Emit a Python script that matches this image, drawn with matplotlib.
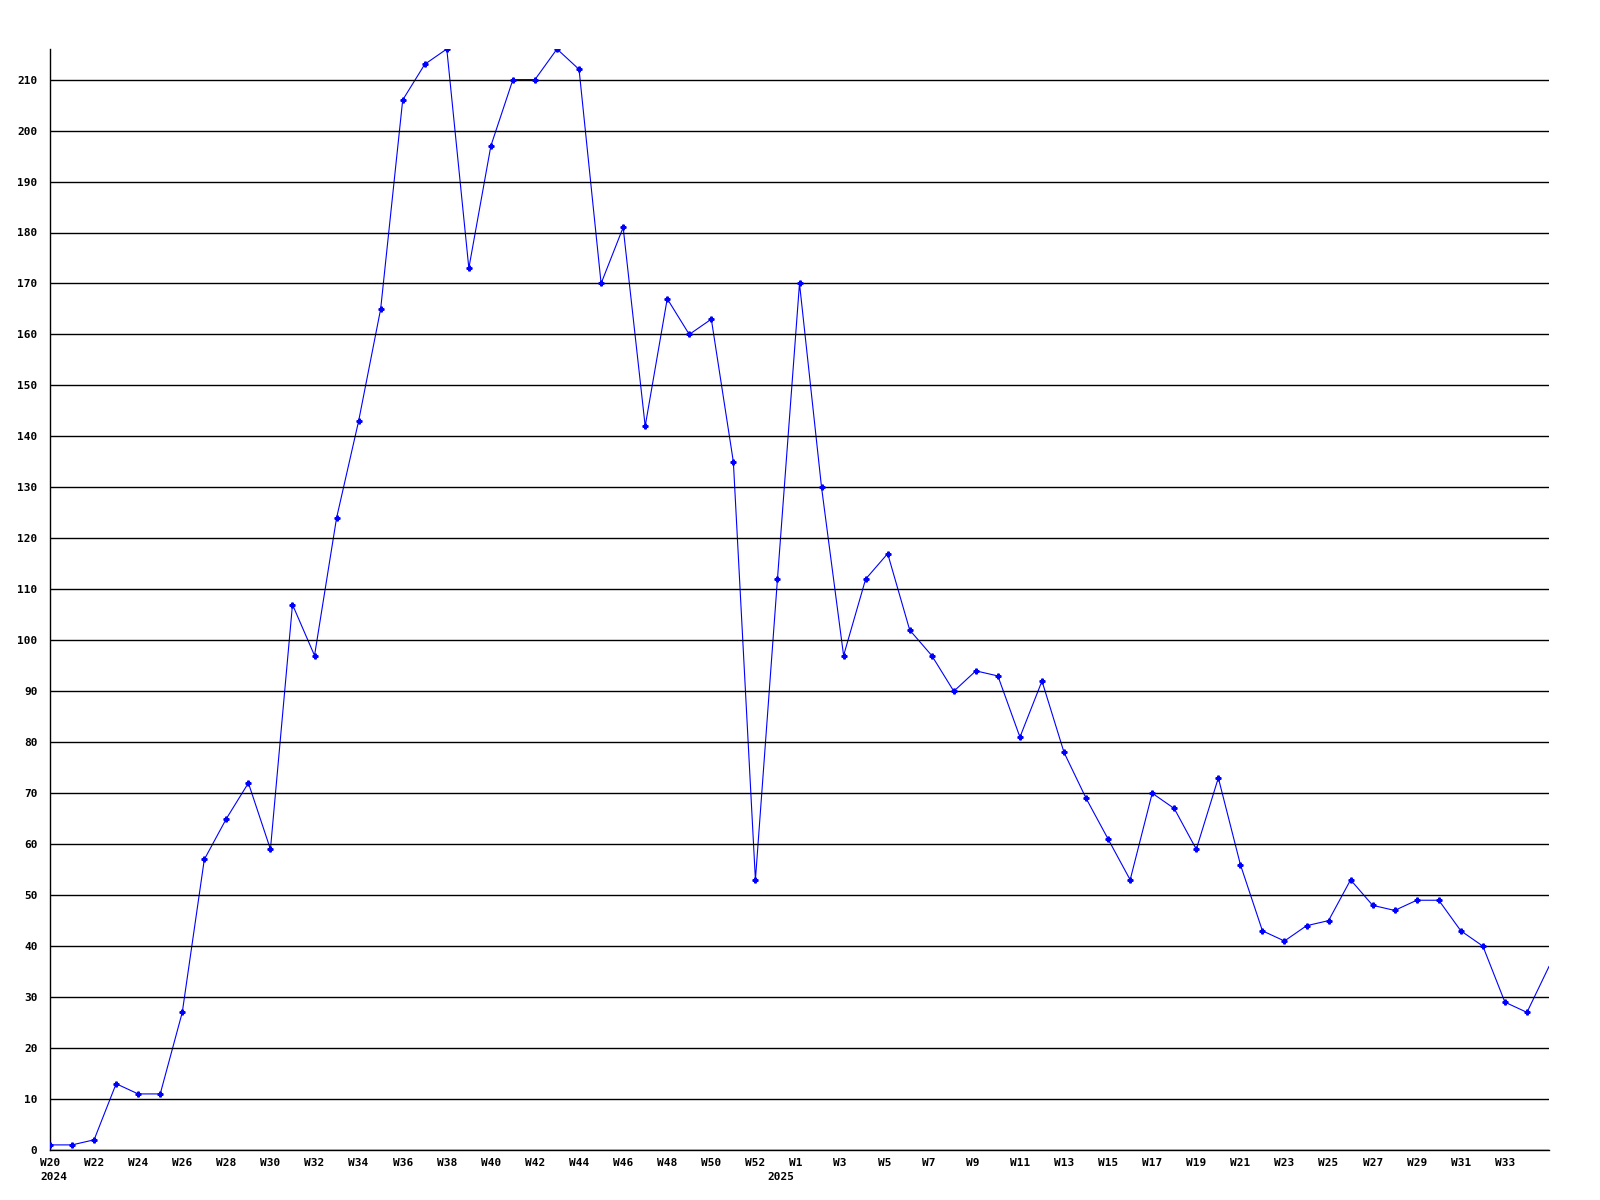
import matplotlib
matplotlib.use("Agg")
import matplotlib.pyplot as plt
import matplotlib.transforms as mtransforms

# week labels (2024 has an extra W53 before 2025 starts)
weeks = [f"W{w}" for w in range(20, 54)] + [f"W{w}" for w in range(1, 36)]
years = {0: "2024", 33: "2025"}

values = [1, 1, 2, 13, 11, 11, 27, 57, 65, 72,
          59, 107, 97, 124, 143, 165, 206, 213, 216, 173,
          197, 210, 210, 216, 212, 170, 181, 142, 167, 160,
          163, 135, 53, 112, 170, 130, 97, 112, 117, 102,
          97, 90, 94, 93, 81, 92, 78, 69, 61, 53,
          70, 67, 59, 73, 56, 43, 41, 44, 45, 53,
          48, 47, 49, 49, 43, 40, 29, 27, 36]

x = list(range(len(values)))

plt.rcParams['font.family'] = ['DejaVu Sans Mono']
plt.rcParams['font.weight'] = 'bold'

fig = plt.figure(figsize=(16, 12), dpi=100)
ax = fig.add_axes([50 / 1600, 50 / 1200, 1499 / 1600, 1101 / 1200])

# line under the grid, markers on top
ax.plot(x, values, color='#0000ff', lw=0.8, zorder=1)
ax.plot(x[:-1], values[:-1], ls='none', marker='P', ms=3.5, color='#0000ff',
        mec='#0000ff', zorder=3)

ax.set_xlim(0, len(values) - 1)
ax.set_ylim(0, max(values))

ax.set_yticks(range(0, 211, 10))
ax.yaxis.grid(True, color='black', lw=1.0)
ax.set_axisbelow(False)

# labels every second week, left-aligned a little before the tick
tick_idx = x[:-1:2]
ax.set_xticks(tick_idx)
ax.set_xticklabels([weeks[i].ljust(3) for i in tick_idx], ha='center')

shift = mtransforms.ScaledTranslation(-10 / 100, -22 / 100, fig.dpi_scale_trans)
trans = mtransforms.blended_transform_factory(ax.transData, ax.transAxes) + shift
for i, yr in years.items():
    ax.text(i, 0, yr, transform=trans, ha='left', va='top',
            fontsize=8, fontweight='bold')

ax.tick_params(axis='both', length=0, labelsize=8)
ax.tick_params(axis='y', pad=9)
ax.tick_params(axis='x', pad=6)

for s in ['top', 'right']:
    ax.spines[s].set_visible(False)
ax.spines['left'].set_linewidth(1.0)
ax.spines['bottom'].set_linewidth(1.0)

fig.savefig("out.png", dpi=100, facecolor='white')
